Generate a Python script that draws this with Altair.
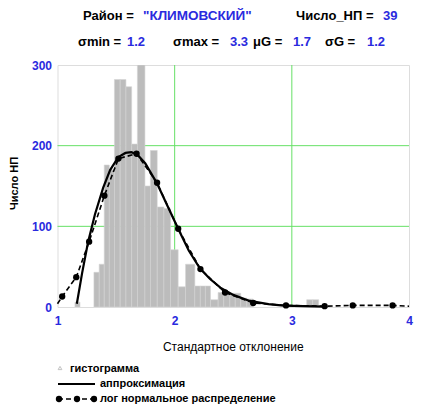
import altair as alt
import pandas as pd

# Histogram bins (left / right edges) and counts
bin_lo = [1.149, 1.311, 1.356, 1.399, 1.442, 1.486, 1.535, 1.584, 1.633, 1.682,
          1.746, 1.793, 1.851, 1.908, 1.965, 2.030, 2.093, 2.172, 2.219, 2.262,
          2.306, 2.371, 2.419, 2.471, 2.517, 2.564, 2.616, 3.127, 3.178]
bin_hi = [1.192, 1.356, 1.399, 1.442, 1.486, 1.535, 1.584, 1.633, 1.682, 1.746,
          1.793, 1.851, 1.908, 1.965, 2.030, 2.093, 2.172, 2.219, 2.262, 2.306,
          2.371, 2.419, 2.471, 2.517, 2.564, 2.616, 2.667, 3.178, 3.229]
counts = [6, 43, 53, 176, 170, 282, 282, 273, 202, 300,
          150, 194, 124, 122, 71, 25, 53, 26, 26, 26,
          9, 18, 18, 17, 17, 11, 10, 9, 9]

# Approximation curve (solid)
appr_x = [1.165, 1.21, 1.26, 1.32, 1.39, 1.45, 1.52, 1.58, 1.63, 1.68, 1.75, 1.85,
          1.94, 2.03, 2.12, 2.215, 2.30, 2.39, 2.50, 2.64, 2.80, 2.93, 3.10, 3.28]
appr_y = [4, 42, 80, 115, 148, 170, 186, 191, 192, 189, 178, 153,
          125, 97, 70, 48, 35, 24, 15, 7.5, 3.5, 1.8, 1.0, 0.5]

# Log-normal distribution (dashed with dots)
logn_x = [1.0, 1.04, 1.16, 1.27, 1.40, 1.52, 1.675, 1.85, 2.03, 2.22, 2.43, 2.67,
          2.95, 3.28, 3.52, 3.86, 4.0]
logn_y = [4, 13, 37, 81, 138, 184, 190, 154, 97, 47, 18, 5,
          2, 1, 2, 2, 1]
logn_dot = [False] + [True] * 15 + [False]

grid_x = [2, 3]
grid_y = [100, 200]

x_ticks = [1, 2, 3, 4]
y_ticks = [0, 100, 200, 300]

FONT = "Liberation Sans"
BLUE = "#2a2ade"
GREEN = "#66e066"
W, H = 351.5, 242

hist = pd.DataFrame({"lo": bin_lo, "hi": bin_hi, "n": counts})
appr = pd.DataFrame({"x": appr_x, "y": appr_y})
logn = pd.DataFrame({"x": logn_x, "y": logn_y, "dot": logn_dot})

xs = alt.Scale(domain=[1, 4], nice=False, zero=False)
ys = alt.Scale(domain=[0, 300], nice=False)

xaxis = alt.Axis(values=x_ticks, grid=False, domain=False, ticks=False, tickSize=0,
                 labelFlush=False, labelPadding=8, labelColor=BLUE, labelFont=FONT,
                 labelFontSize=12, labelFontWeight="bold", title=None, format="d")
yaxis = alt.Axis(values=y_ticks, grid=False, domain=False, ticks=False, tickSize=0,
                 labelPadding=6, labelColor=BLUE, labelFont=FONT, labelFontSize=12,
                 labelFontWeight="bold", title=None, labelBaseline="middle")

gx = alt.Chart(pd.DataFrame({"g": grid_x})).mark_rule(color=GREEN, strokeWidth=1).encode(
    x=alt.X("g:Q", scale=xs, axis=xaxis))
gy = alt.Chart(pd.DataFrame({"g": grid_y})).mark_rule(color=GREEN, strokeWidth=1).encode(
    y=alt.Y("g:Q", scale=ys, axis=yaxis))

bars = alt.Chart(hist).mark_rect(color="#bcbcbc", stroke="#d4d4d4", strokeWidth=0.6,
                                 clip=True).encode(
    x=alt.X("lo:Q", scale=xs), x2="hi:Q",
    y=alt.Y("n:Q", scale=ys), y2=alt.datum(0))

appr_line = alt.Chart(appr).mark_line(color="black", strokeWidth=2.2).encode(
    x=alt.X("x:Q", scale=xs), y=alt.Y("y:Q", scale=ys), order="x:Q")

logn_line = alt.Chart(logn).mark_line(color="black", strokeWidth=1.6,
                                      strokeDash=[5, 3]).encode(
    x=alt.X("x:Q", scale=xs), y=alt.Y("y:Q", scale=ys), order="x:Q")
logn_pts = alt.Chart(logn).transform_filter("datum.dot").mark_point(
    filled=True, color="black", size=40, opacity=1).encode(
    x=alt.X("x:Q", scale=xs), y=alt.Y("y:Q", scale=ys))


def txt(s, x, y, color="black", size=13, weight="bold", align="left", angle=0):
    return alt.Chart(pd.DataFrame({"t": [s]})).mark_text(
        align=align, baseline="middle", font=FONT, fontSize=size,
        fontWeight=weight, color=color, angle=angle).encode(
        text="t:N", x=alt.value(x), y=alt.value(y))


texts = [
    txt("Район =", 25.5, -49),
    txt("\"КЛИМОВСКИЙ\"", 85.5, -49, color=BLUE, size=13.5),
    txt("Число_НП =", 238.5, -49),
    txt("39", 325.5, -49, color=BLUE),
    txt("σmin =", 20.5, -23),
    txt("1.2", 69.5, -23, color=BLUE),
    txt("σmax =", 115.5, -23),
    txt("3.3", 172.5, -23, color=BLUE),
    txt("μG =", 195.5, -23),
    txt("1.7", 235.5, -23, color=BLUE),
    txt("σG =", 267.5, -23),
    txt("1.2", 309.5, -23, color=BLUE),
    txt("Стандартное отклонение", W / 2, 282, size=12, weight="normal", align="center"),
    txt("Число НП", -43, 118.5, size=11, align="center", angle=270),
    txt("гистограмма", 12.5, 304, size=11),
    txt("аппроксимация", 42.5, 319, size=11),
    txt("лог нормальное распределение", 42.5, 334, size=11),
]

leg_tri = alt.Chart(pd.DataFrame({"k": [0]})).mark_point(
    shape="triangle-up", size=14, color="#aaaaaa", strokeWidth=1).encode(
    x=alt.value(2.5), y=alt.value(303))
leg_solid = alt.Chart(pd.DataFrame({"k": [0]})).mark_rule(
    color="black", strokeWidth=2).encode(
    x=alt.value(0.5), x2=alt.value(37.5), y=alt.value(319))
leg_dash = alt.Chart(pd.DataFrame({"k": [0]})).mark_rule(
    color="black", strokeWidth=1.6, strokeDash=[5, 3]).encode(
    x=alt.value(0.5), x2=alt.value(37.5), y=alt.value(334))
leg_dots = [alt.Chart(pd.DataFrame({"k": [0]})).mark_point(
    filled=True, color="black", size=40, opacity=1).encode(
    x=alt.value(px), y=alt.value(334)) for px in (1.5, 19.5, 36.5)]

chart = alt.layer(gx, gy, bars, appr_line, logn_line, logn_pts, *texts,
                  leg_tri, leg_solid, leg_dash, *leg_dots).properties(
    width=W, height=H,
    autosize=alt.AutoSizeParams(type="none"),
    padding={"left": 49.5, "top": 57, "right": 11, "bottom": 97},
).configure_view(stroke="#8a8a8a", strokeWidth=1).configure(background="white")

chart.save("out.html", embed_options={"renderer": "svg", "actions": False})
